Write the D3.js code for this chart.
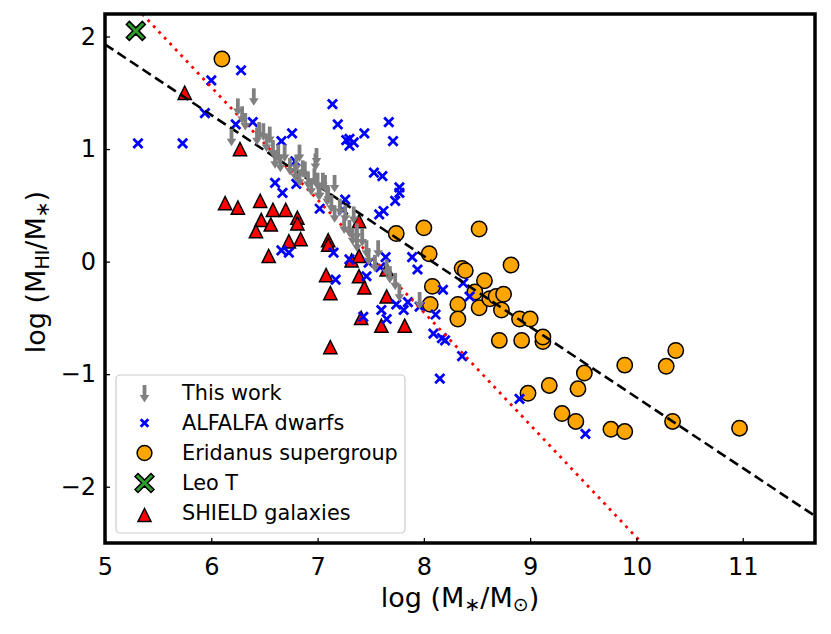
<!DOCTYPE html>
<html><head><meta charset="utf-8">
<script src="https://cdn.jsdelivr.net/npm/d3@7"></script>
<style>body{margin:0;background:#fff;} text{font-family:"DejaVu Sans",sans-serif;}</style>
</head><body>
<svg id="c" width="831" height="634"></svg>
<script>
// ---------- DATA ----------
const xTicks = [5, 6, 7, 8, 9, 10, 11];
const yTicks = [-2, -1, 0, 1, 2];
const xDomain = [5, 11.68];
const yDomain = [-2.5, 2.2];

const thisWorkX = [6.40,6.25,6.29,6.32,6.19,6.45,6.49,6.55,6.43,6.52,6.58,6.63,6.69,6.60,6.65,6.83,6.99,6.74,6.79,6.88,6.83,6.91,6.94,7.00,7.07,7.16,7.02,7.10,6.98,6.80,6.86,6.97,7.05,7.13,7.21,7.26,7.34,7.16,7.25,7.30,7.37,7.33,7.42,7.46,7.37,7.57,7.48,7.54,7.65,7.68,7.73,7.77,7.96,7.09,7.01];
const thisWorkY = [1.54,1.45,1.38,1.32,1.18,1.24,1.23,1.20,1.19,1.13,1.08,1.04,1.04,0.98,0.95,1.04,1.01,0.92,0.87,0.89,0.82,0.80,0.74,0.79,0.77,0.77,0.70,0.67,0.96,0.95,0.90,0.83,0.79,0.59,0.56,0.50,0.49,0.50,0.40,0.37,0.34,0.30,0.29,0.19,0.24,0.19,0.12,0.06,0.02,-0.04,-0.10,-0.20,-0.27,0.65,0.70];

const alfalfaX = [6.28,6.00,5.94,5.31,5.73,6.23,6.39,6.76,6.66,7.14,7.19,7.27,7.30,7.34,7.30,7.44,7.67,7.71,6.60,6.67,6.80,6.79,7.26,7.53,7.61,7.77,7.77,7.73,7.62,7.58,7.02,7.24,6.66,6.73,7.15,7.30,7.48,7.59,7.64,7.17,7.46,7.89,7.94,7.74,7.81,7.85,7.60,7.65,7.43,7.96,8.11,8.18,8.09,8.17,8.20,8.36,8.15,8.90,9.52,8.37,8.43];
const alfalfaY = [1.70,1.61,1.32,1.05,1.05,1.22,1.24,1.14,1.07,1.40,1.22,1.08,1.09,1.06,1.03,1.14,1.24,1.07,0.70,0.61,0.69,0.89,0.55,0.79,0.76,0.66,0.61,0.54,0.45,0.42,0.47,0.46,0.10,0.08,0.08,0.02,-0.01,-0.05,0.04,-0.16,-0.13,0.04,-0.07,-0.38,-0.43,-0.36,-0.43,-0.51,-0.49,-0.40,-0.47,-0.25,-0.64,-0.68,-0.70,-0.84,-1.04,-1.22,-1.53,-0.19,-0.31];

const eridanusX = [6.10,7.74,8.00,8.52,8.05,8.36,8.39,8.82,8.08,8.06,8.57,8.48,8.32,8.32,8.52,8.62,8.68,8.75,8.73,8.90,9.00,8.71,8.92,9.12,9.12,9.51,9.45,9.18,8.98,9.30,9.43,9.89,10.37,10.28,9.76,9.89,10.34,10.97];
const eridanusY = [1.80,0.25,0.30,0.29,0.07,-0.06,-0.08,-0.03,-0.22,-0.38,-0.17,-0.27,-0.38,-0.51,-0.41,-0.33,-0.31,-0.29,-0.43,-0.51,-0.51,-0.70,-0.70,-0.71,-0.67,-0.99,-1.13,-1.10,-1.17,-1.35,-1.42,-0.92,-0.79,-0.93,-1.49,-1.51,-1.42,-1.48];

const leoTX = [5.29];
const leoTY = [2.05];

const shieldX = [5.75,6.27,6.13,6.25,6.46,6.58,6.70,6.47,6.81,6.81,6.56,6.42,6.73,6.84,6.54,7.10,7.10,7.32,7.39,7.08,7.39,7.12,7.44,7.65,7.65,7.41,7.60,7.82,7.12,7.39];
const shieldY = [1.50,1.00,0.52,0.48,0.54,0.46,0.46,0.37,0.39,0.34,0.33,0.27,0.18,0.20,0.05,0.19,0.15,0.01,0.05,-0.12,-0.13,-0.28,-0.23,-0.07,-0.31,-0.50,-0.57,-0.57,-0.76,0.36];

// fitted relation (dashed) and detection limit (dotted)
const fitX = [5, 11.68], fitY = [1.93, -2.26];
const limX = [5.35, 10.05], limY = [2.2, -2.5];

const legendLabels = ["This work", "ALFALFA dwarfs", "Eridanus supergroup", "Leo T", "SHIELD galaxies"];

// ---------- DRAW ----------
const svg = d3.select("#c");
const L = 105, R = 815, T = 14, B = 543;
const x = d3.scaleLinear().domain(xDomain).range([L, R]);
const y = d3.scaleLinear().domain(yDomain).range([B, T]);

svg.append("defs").append("clipPath").attr("id","clip")
  .append("rect").attr("x",L).attr("y",T).attr("width",R-L).attr("height",B-T);
const plot = svg.append("g").attr("clip-path","url(#clip)");

const zip = (a,b)=>a.map((v,i)=>[v,b[i]]);
const triPath = s => `M0,${-s}L${-s},${s}L${s},${s}Z`;
const xPath = (s,w) => { // filled X marker
  const a=w/2;
  return `M${-s+a},${-s}L0,${-a}L${s-a},${-s}L${s},${-s+a}L${a},0L${s},${s-a}L${s-a},${s}L0,${a}L${-s+a},${s}L${-s},${s-a}L${-a},0L${-s},${-s+a}Z`;
};

// SHIELD triangles
plot.append("g").selectAll("path").data(zip(shieldX,shieldY)).join("path")
  .attr("d", triPath(6.6))
  .attr("transform", d=>`translate(${x(d[0])},${y(d[1])})`)
  .attr("fill","#ff0000").attr("stroke","#000").attr("stroke-width",1.5);

// Eridanus circles
plot.append("g").selectAll("circle").data(zip(eridanusX,eridanusY)).join("circle")
  .attr("cx", d=>x(d[0])).attr("cy", d=>y(d[1])).attr("r", 7.7)
  .attr("fill","#ffa500").attr("stroke","#000").attr("stroke-width",1.5);

// ALFALFA crosses
const cross = (g, s) => g.append("path").attr("d",`M${-s},${-s}L${s},${s}M${-s},${s}L${s},${-s}`)
  .attr("stroke","#0000ff").attr("stroke-width",2.8).attr("fill","none");
plot.append("g").selectAll("g").data(zip(alfalfaX,alfalfaY)).join("g")
  .attr("transform", d=>`translate(${x(d[0])},${y(d[1])})`)
  .each(function(){ cross(d3.select(this), 4.6); });

// lines
const line = d3.line().x(d=>x(d[0])).y(d=>y(d[1]));
plot.append("path").attr("d", line(zip(limX,limY))).attr("stroke","#ff0000")
  .attr("stroke-width",2.8).attr("stroke-dasharray","2.8 5.2").attr("fill","none");
plot.append("path").attr("d", line(zip(fitX,fitY))).attr("stroke","#000")
  .attr("stroke-width",2.6).attr("stroke-dasharray","10 5").attr("fill","none");

// This work arrows (upper limits)
const arrow = (g) => {
  g.append("line").attr("x1",0).attr("x2",0).attr("y1",0).attr("y2",11)
    .attr("stroke","#808080").attr("stroke-width",3.8);
  g.append("path").attr("d","M-4.8,10L4.8,10L0,17.5Z").attr("fill","#808080");
};
plot.append("g").selectAll("g").data(zip(thisWorkX,thisWorkY)).join("g")
  .attr("transform", d=>`translate(${x(d[0])},${y(d[1])})`)
  .each(function(){ arrow(d3.select(this)); });

// Leo T
plot.append("g").selectAll("path").data(zip(leoTX,leoTY)).join("path")
  .attr("d", xPath(9.5,6))
  .attr("transform", d=>`translate(${x(d[0])},${y(d[1])})`)
  .attr("fill","#2ca02c").attr("stroke","#000").attr("stroke-width",1.5);

// axes
const xAxis = d3.axisBottom(x).tickValues(xTicks).tickSize(-5).tickPadding(12).tickFormat(d3.format("d"));
const yAxis = d3.axisLeft(y).tickValues(yTicks).tickSize(-5).tickPadding(9).tickFormat(d=>d<0?"\u2212"+Math.abs(d):String(d));
const gx = svg.append("g").attr("transform",`translate(0,${B})`).call(xAxis);
const gy = svg.append("g").attr("transform",`translate(${L},0)`).call(yAxis);
[gx,gy].forEach(g=>{
  g.select(".domain").remove();
  g.selectAll(".tick line").attr("stroke","#000").attr("stroke-width",1.3);
  g.selectAll(".tick text").attr("font-size",24).attr("fill","#000").attr("font-family","DejaVu Sans");
});
gx.selectAll(".tick text").attr("dy","0.85em");

// frame
svg.append("rect").attr("x",L).attr("y",T).attr("width",R-L).attr("height",B-T)
  .attr("fill","none").attr("stroke","#000").attr("stroke-width",3.5);

// axis labels
const xl = svg.append("text").attr("x",(L+R)/2).attr("y",607).attr("text-anchor","middle").attr("font-size",27);
xl.append("tspan").text("log (M");
xl.append("tspan").text("\u2217").attr("font-size",19).attr("dy",4);
xl.append("tspan").text("/M").attr("dy",-4);
xl.append("tspan").text("\u2299").attr("font-size",19).attr("dy",4);
xl.append("tspan").text(")").attr("dy",-4);

const yl = svg.append("text").attr("transform",`translate(45,272) rotate(-90)`).attr("text-anchor","middle").attr("font-size",27);
yl.append("tspan").text("log (M");
yl.append("tspan").text("HI").attr("font-size",19).attr("dy",4);
yl.append("tspan").text("/M").attr("dy",-4);
yl.append("tspan").text("\u2217").attr("font-size",19).attr("dy",4);
yl.append("tspan").text(")").attr("dy",-4);

// legend
const lg = svg.append("g");
lg.append("rect").attr("x",116).attr("y",375).attr("width",289).attr("height",158).attr("rx",4)
  .attr("fill","#fff").attr("fill-opacity",0.8).attr("stroke","#cccccc").attr("stroke-width",1.2);
const rowY = i => 393 + i*30;
legendLabels.forEach((t,i)=>{
  lg.append("text").attr("x",182).attr("y",rowY(i)).attr("dy","0.35em").attr("font-size",20.8).text(t);
});
const lm = (i)=>lg.append("g").attr("transform",`translate(144.5,${rowY(i)})`);
{ const g=lm(0).attr("transform",`translate(144.5,${rowY(0)-8})`); arrow(g); }
cross(lm(1), 3.8);
lm(2).append("circle").attr("r",7.4).attr("fill","#ffa500").attr("stroke","#000").attr("stroke-width",1.5);
lm(3).append("path").attr("d",xPath(9.5,6)).attr("fill","#2ca02c").attr("stroke","#000").attr("stroke-width",1.5);
lm(4).append("path").attr("d",triPath(6.5)).attr("transform",`translate(0,2)`).attr("fill","#ff0000").attr("stroke","#000").attr("stroke-width",1.5);
</script>
</body></html>
